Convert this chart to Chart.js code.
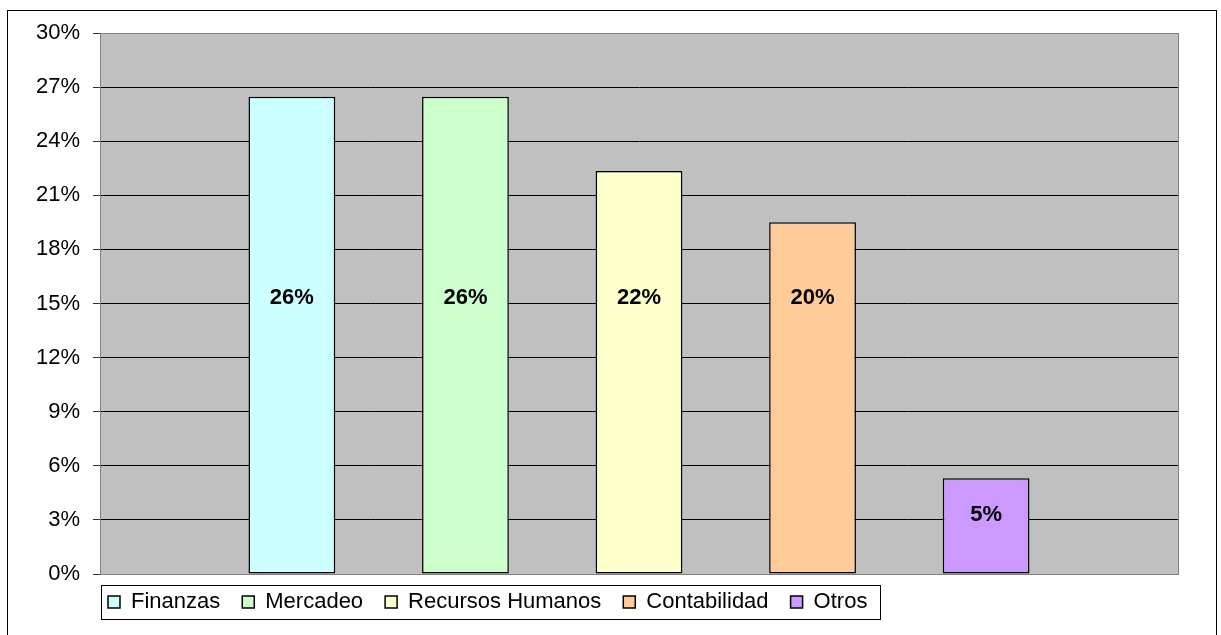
<!DOCTYPE html>
<html>
<head>
<meta charset="utf-8">
<title>Áreas</title>
<script src="https://cdn.jsdelivr.net/npm/chart.js@4"></script>
<style>
  html, body { margin: 0; padding: 0; background: #fff; }
  #wrap { position: relative; width: 1221px; height: 635px; overflow: hidden; }
  #frame { position: absolute; left: 7px; top: 10px; width: 1208px; height: 640px; border: 1px solid #000; pointer-events: none; }
  canvas { position: absolute; left: 0; top: 0; }
</style>
</head>
<body>
<div id="wrap">
  <canvas id="chart" width="1221" height="635"></canvas>
  <div id="frame"></div>
</div>
<script>
// values (percent)
const areas = ['Finanzas', 'Mercadeo', 'Recursos Humanos', 'Contabilidad', 'Otros'];
const shares = [26.47, 26.47, 22.35, 19.5, 5.31];
const fills = ['#CCFFFF', '#CCFFCC', '#FFFFCC', '#FFCC99', '#CC99FF'];
const yTicks = [0, 3, 6, 9, 12, 15, 18, 21, 24, 27, 30];

const FONT = 'Liberation Sans, Arial, sans-serif';

// grey plot background, white legend box
const backdrop = {
  id: 'backdrop',
  afterLayout(chart) {
    // legend sits just inside the plot's left edge, a bit above its slot
    chart.legend.left -= 14;
    chart.legend.top -= 5;
  },
  beforeDraw(chart) {
    const { ctx, chartArea: a } = chart;
    ctx.save();
    ctx.fillStyle = '#C0C0C0';
    ctx.fillRect(a.left, a.top, a.right - a.left, a.bottom - a.top);

    const hb = chart.legend.legendHitBoxes;
    if (hb && hb.length) {
      const first = hb[0], last = hb[hb.length - 1];
      const mid = first.top + first.height / 2;
      const x0 = Math.round(first.left - 7) + 0.5;
      const x1 = Math.round(last.left + last.width + 13) + 0.5;
      const y0 = Math.round(mid - 17) + 0.5;
      const y1 = Math.round(mid + 17) + 0.5;
      ctx.fillStyle = '#fff';
      ctx.fillRect(x0, y0, x1 - x0, y1 - y0);
      ctx.strokeStyle = '#000';
      ctx.lineWidth = 1;
      ctx.strokeRect(x0, y0, x1 - x0, y1 - y0);
    }
    ctx.restore();
  },
  beforeDatasetsDraw(chart) {
    const { ctx, chartArea: a } = chart;
    const al = p => Math.round(p - 0.5) + 0.5;
    ctx.save();
    ctx.strokeStyle = '#808080';
    ctx.lineWidth = 1;
    ctx.strokeRect(al(a.left), al(a.top), al(a.right) - al(a.left), al(a.bottom) - al(a.top));
    ctx.restore();
  }
};

// bold value labels inside the bars
const valueLabels = {
  id: 'valueLabels',
  afterDatasetsDraw(chart) {
    const { ctx } = chart;
    const y = chart.scales.y;
    ctx.save();
    ctx.font = 'bold 22px ' + FONT;
    ctx.fillStyle = '#000';
    ctx.textAlign = 'center';
    ctx.textBaseline = 'middle';
    chart.data.datasets.forEach((ds, i) => {
      const bar = chart.getDatasetMeta(i).data[0];
      const v = ds.data[0];
      const at = v > 10 ? 15.3 : v * 0.62;
      ctx.fillText(Math.round(v) + '%', bar.x, y.getPixelForValue(at));
    });
    ctx.restore();
  }
};

const datasets = areas.map((name, i) => ({
  label: name,
  data: [shares[i]],
  backgroundColor: fills[i],
  borderColor: '#000',
  borderWidth: 1.5,
  borderSkipped: false,
  categoryPercentage: 0.805,
  barPercentage: 0.5
}));

new Chart(document.getElementById('chart'), {
  type: 'bar',
  data: { labels: [''], datasets },
  options: {
    responsive: false,
    animation: false,
    layout: { padding: { left: 0, right: 43, top: 33, bottom: 7 } },
    plugins: {
      tooltip: { enabled: false },
      legend: {
        position: 'bottom',
        align: 'start',
        fullSize: false,
        labels: {
          boxWidth: 12,
          boxHeight: 12,
          padding: 22,
          color: '#000',
          font: { family: FONT, size: 22 }
        }
      }
    },
    scales: {
      x: {
        grid: { display: false },
        border: { display: false },
        ticks: { display: false },
        afterFit(s) { s.height = 0; }
      },
      y: {
        min: 0,
        max: 30,
        afterBuildTicks(s) { s.ticks = yTicks.map(v => ({ value: v })); },
        grid: { color: '#000', lineWidth: 1, tickLength: 7, tickColor: '#333' },
        border: { color: '#808080' },
        ticks: {
          padding: 13,
          color: '#000',
          font: { family: FONT, size: 22 },
          callback: v => v + '%'
        },
        afterFit(s) { s.width = 100; }
      }
    }
  },
  plugins: [backdrop, valueLabels]
});
</script>
</body>
</html>
